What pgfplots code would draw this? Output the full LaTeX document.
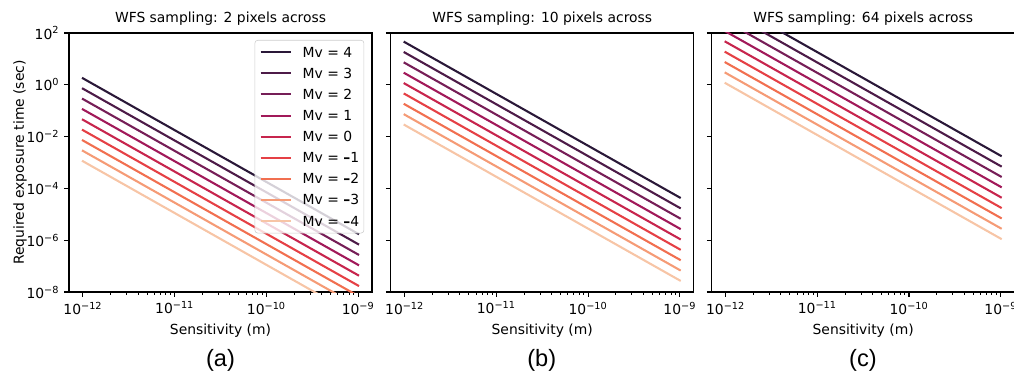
\documentclass[border=0pt]{standalone}
\usepackage{fontspec}
\setmainfont{DejaVu Sans}
\newfontfamily\arialfont{Liberation Sans}
\usepackage{pgfplots}
\usepackage{pgfplotstable}
\pgfplotsset{compat=1.18}

\definecolor{c4}{HTML}{2A1838}
\definecolor{c3}{HTML}{4D1B48}
\definecolor{c2}{HTML}{761E57}
\definecolor{c1}{HTML}{A11959}
\definecolor{c0}{HTML}{C7254D}
\definecolor{cm1}{HTML}{E54045}
\definecolor{cm2}{HTML}{F16F50}
\definecolor{cm3}{HTML}{F59B76}
\definecolor{cm4}{HTML}{F7C5A6}

% panel (a): 2 pixels across
\pgfplotstableread{
x      m4       m3       m2       m1       m0       mm1      mm2      mm3      mm4
1e-12  1.778    0.7079   0.2818   0.1122   0.04467  0.01778  0.007079 0.002818 0.001122
1e-9   1.778e-6 7.079e-7 2.818e-7 1.122e-7 4.467e-8 1.778e-8 7.079e-9 2.818e-9 1.122e-9
}\tabA
% panel (b): 10 pixels across
\pgfplotstableread{
x      m4       m3       m2       m1       m0       mm1      mm2      mm3      mm4
1e-12  44.45    17.70    7.047    2.805    1.117    0.4446   0.1770   0.07047  0.02805
1e-9   4.445e-5 1.770e-5 7.047e-6 2.805e-6 1.117e-6 4.446e-7 1.770e-7 7.047e-8 2.805e-8
}\tabB
% panel (c): 64 pixels across
\pgfplotstableread{
x      m4       m3       m2       m1       m0       mm1      mm2      mm3      mm4
1e-12  1820.7   724.9    288.6    114.9    45.74    18.21    7.249    2.886    1.149
1e-9   1.821e-3 7.249e-4 2.886e-4 1.149e-4 4.574e-5 1.821e-5 7.249e-6 2.886e-6 1.149e-6
}\tabC

\pgfplotsset{
  every axis/.append style={
    xmode=log, ymode=log, scale only axis,
    width=218.2pt, height=186.5pt,
    xmin=7.05e-13, xmax=1.419e-9,
    ymin=1e-8, ymax=1e2,
    xtick={1e-12,1e-11,1e-10,1e-9},
    xticklabels={10\textsuperscript{−12},10\textsuperscript{−11},10\textsuperscript{−10},10\textsuperscript{−9}},
    ytick={1e-8,1e-6,1e-4,1e-2,1,1e2},
    yminorticks=false,
    tick align=outside, tick pos=left,
    major tick length=3.5pt, minor tick length=2pt,
    every tick/.style={black, line width=0.8pt},
    every minor tick/.style={black, line width=0.6pt},
    axis line style={line width=0.8pt},
    xlabel={Sensitivity (m)},
    title style={font=\fontsize{10}{12}\selectfont, yshift=-4pt},
  },
  every axis plot/.append style={line width=1.5pt, line cap=rect},
}

\newcommand{\panellines}[1]{%
  \addplot[c4]  table[x=x,y=m4]  {#1};
  \addplot[c3]  table[x=x,y=m3]  {#1};
  \addplot[c2]  table[x=x,y=m2]  {#1};
  \addplot[c1]  table[x=x,y=m1]  {#1};
  \addplot[c0]  table[x=x,y=m0]  {#1};
  \addplot[cm1] table[x=x,y=mm1] {#1};
  \addplot[cm2] table[x=x,y=mm2] {#1};
  \addplot[cm3] table[x=x,y=mm3] {#1};
  \addplot[cm4] table[x=x,y=mm4] {#1};
}
\newcommand{\mdash}{{\bfseries –}}

\begin{document}
\begin{tikzpicture}
\begin{axis}[
  at={(49.68pt,-23.76pt)}, anchor=north west,
  title={WFS sampling: 2 pixels across},
  yticklabels={10\textsuperscript{−8},10\textsuperscript{−6},10\textsuperscript{−4},10\textsuperscript{−2},10\textsuperscript{0},10\textsuperscript{2}},
  ylabel={Required exposure time (sec)},
  ylabel shift=-7pt,
  legend cell align=left,
  legend image code/.code={\draw[#1,line width=1.5pt,line cap=butt] (0pt,0pt) -- (21.6pt,0pt);},
  legend style={at={(0.974,0.973)}, anchor=north east, draw=black!20, fill=white,
    fill opacity=0.8, text opacity=1, draw opacity=1, rounded corners=2pt,
    row sep=0pt, inner xsep=3.4pt, inner ysep=1pt,
    font=\fontsize{10}{12}\selectfont,
    nodes={inner xsep=0pt, inner ysep=0pt, text height=11.2pt, text depth=4pt, anchor=west},
    /tikz/every odd column/.append style={column sep=7.9pt}},
]
\panellines{\tabA}
\legend{Mv = 4, Mv = 3, Mv = 2, Mv = 1, Mv = 0, Mv = \mdash1, Mv = \mdash2, Mv = \mdash3, Mv = \mdash4}
\end{axis}

\begin{axis}[
  at={(281.3pt,-23.76pt)}, anchor=north west,
  title={WFS sampling: 10 pixels across},
  yticklabels={},
]
\panellines{\tabB}
\end{axis}

\begin{axis}[
  at={(512.4pt,-23.76pt)}, anchor=north west,
  title={WFS sampling: 64 pixels across},
  yticklabels={},
]
\panellines{\tabC}
\end{axis}

\node[font=\arialfont\fontsize{17}{20}\selectfont] at (158.8pt,-259.2pt) {(a)};
\node[font=\arialfont\fontsize{17}{20}\selectfont] at (390.1pt,-259.2pt) {(b)};
\node[font=\arialfont\fontsize{17}{20}\selectfont] at (621.3pt,-259.2pt) {(c)};

\pgfresetboundingbox
\useasboundingbox (0pt,0pt) rectangle (730.08pt,-269.28pt);
\end{tikzpicture}
\end{document}
